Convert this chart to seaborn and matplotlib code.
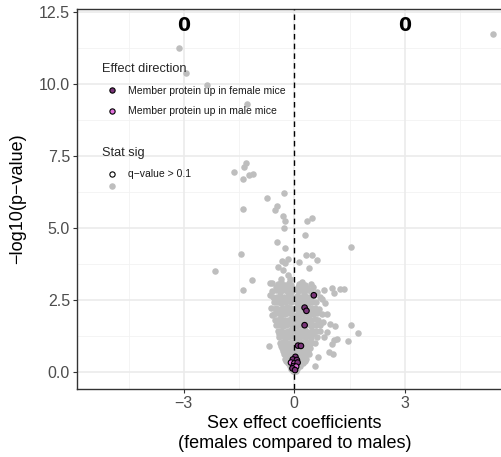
import matplotlib
matplotlib.use("Agg")
import matplotlib.pyplot as plt
from matplotlib.lines import Line2D
import seaborn as sns
import pandas as pd

sns.set_theme(style="white")
plt.rcParams['font.family'] = ['Liberation Sans', 'DejaVu Sans']

# ---- data: non-significant proteins (grey) ----
bg_x = [5.39, -3.14, -2.93, -2.37, -1.28, -1.32, -1.36, -1.65, -1.39, -1.23, -1.12, -4.94,
        -0.74, -0.29, -0.47, -0.52, -1.39, -0.32, -0.26, 0.34, 0.49, -0.28, 0.30, -0.46,
        -0.25, 1.54, -1.44, 0.32, 0.49, 0.61, 0.14, -0.33, -0.17, -0.24, -0.43, -0.31,
        -2.14, 0.40, -0.18, -0.35, -0.13, -1.15, -0.65, -0.61, -1.39, -0.65, -0.18, 0.30,
        0.45, 0.52, 0.80, 1.02, 1.07, 1.25, 1.34, 0.75, 0.84, 0.89, 0.78, 0.98, 1.11, 1.54,
        1.74, 1.47, 1.07, 1.16, 1.02, 0.80, 0.89, 0.71, 0.93, 1.05, 0.64, 0.57, -0.70,
        -0.61, -0.52,
        # dense central cloud
        -0.45, -0.35, -0.25, -0.15, -0.08, 0.12, 0.20, 0.30,
        -0.60, -0.50, -0.40, -0.30, -0.20, -0.10, -0.04, 0.10, 0.18, 0.26, 0.36, 0.45, 0.62,
        -0.58, -0.48, -0.38, -0.28, -0.18, -0.10, -0.05, 0.08, 0.15, 0.22, 0.30, 0.40, 0.50, 0.70,
        -0.55, -0.45, -0.35, -0.25, -0.16, -0.08, 0.07, 0.14, 0.22, 0.30, 0.38, 0.48, 0.60,
        -0.62, -0.50, -0.40, -0.30, -0.20, -0.12, -0.05, 0.06, 0.12, 0.20, 0.36, 0.44, 0.56, 0.66,
        -0.55, -0.45, -0.35, -0.25, -0.15, -0.07, 0.07, 0.15, 0.22, 0.30, 0.40, 0.50, 0.62, 0.75,
        -0.48, -0.38, -0.28, -0.18, -0.10, -0.04, 0.06, 0.13, 0.20, 0.28, 0.36, 0.45, 0.55, 0.65,
        -0.50, -0.40, -0.30, -0.22, -0.14, -0.06, 0.05, 0.12, 0.19, 0.36, 0.44, 0.52, 0.60, 0.70,
        -0.45, -0.35, -0.26, -0.18, -0.10, -0.04, 0.06, 0.14, 0.22, 0.30, 0.38, 0.47, 0.58,
        -0.42, -0.32, -0.24, -0.16, -0.08, 0.05, 0.12, 0.20, 0.28, 0.36, 0.46, 0.62,
        -0.38, -0.30, -0.22, -0.14, -0.07, 0.05, 0.12, 0.18, 0.26, 0.34, 0.44, 0.55,
        -0.33, -0.25, -0.18, -0.10, -0.04, 0.05, 0.11, 0.18, 0.25, 0.33, 0.42,
        -0.28, -0.20, -0.13, -0.06, 0.04, 0.10, 0.17, 0.24, 0.32, 0.40,
        -0.24, -0.16, -0.09, -0.03, 0.04, 0.10, 0.17, 0.24, 0.32,
        -0.18, -0.11, -0.05, 0.04, 0.10, 0.16, 0.24,
        -0.13, -0.07, 0.03, 0.09, 0.15,
        -0.08, -0.03, 0.03, 0.08,
        -0.04, 0.00, 0.04,
        # half-step rows
        -0.50, -0.40, -0.30, -0.20, -0.12, 0.10, 0.18, 0.26, 0.34,
        -0.52, -0.42, -0.32, -0.22, -0.13, 0.10, 0.18, 0.26, 0.34, 0.42,
        -0.50, -0.40, -0.30, -0.20, -0.11, 0.10, 0.18, 0.26, 0.34, 0.42, 0.54,
        -0.44, -0.34, -0.24, -0.14, 0.09, 0.17, 0.25, 0.33, 0.41,
        -0.42, -0.32, -0.22, -0.12, 0.09, 0.17, 0.25, 0.33, 0.41, 0.52,
        -0.36, -0.27, -0.18, -0.10, 0.08, 0.16, 0.23, 0.31, 0.40,
        -0.30, -0.22, -0.14, -0.07, 0.08, 0.15, 0.22, 0.29, 0.37,
        -0.22, -0.14, -0.07, 0.07, 0.14, 0.21, 0.28,
        ]
bg_y = [11.72, 11.25, 10.37, 9.97, 9.30, 7.24, 7.12, 6.93, 6.68, 6.84, 6.86, 6.45,
        6.02, 6.20, 5.75, 5.62, 5.66, 5.41, 5.24, 5.22, 5.34, 5.00, 4.75, 4.49,
        4.31, 4.32, 4.09, 4.04, 4.04, 3.87, 3.81, 3.84, 3.91, 3.76, 3.62, 3.53,
        3.50, 3.60, 3.36, 3.23, 3.21, 3.18, 3.09, 3.07, 2.85, 2.66, 2.95, 2.95,
        3.04, 2.95, 2.85, 2.89, 2.72, 2.86, 2.87, 2.51, 2.37, 2.00, 1.73, 1.64, 1.59, 1.60,
        1.35, 1.07, 1.10, 1.12, 0.95, 1.21, 1.38, 1.41, 0.69, 0.61, 0.49, 0.18, 0.90,
        1.96, 1.79,
        3.05, 3.12, 3.02, 3.08, 3.00, 3.05, 3.10, 3.02,
        2.80, 2.82, 2.78, 2.84, 2.80, 2.78, 2.82, 2.80, 2.84, 2.78, 2.82, 2.80, 2.78,
        2.60, 2.58, 2.62, 2.60, 2.64, 2.58, 2.60, 2.62, 2.58, 2.60, 2.64, 2.58, 2.62, 2.60,
        2.40, 2.42, 2.38, 2.40, 2.44, 2.40, 2.38, 2.42, 2.40, 2.44, 2.38, 2.40, 2.42,
        2.20, 2.22, 2.18, 2.20, 2.24, 2.20, 2.18, 2.22, 2.20, 2.24, 2.18, 2.20, 2.22, 2.18,
        2.00, 2.02, 1.98, 2.00, 2.04, 2.00, 1.98, 2.02, 2.00, 2.04, 1.98, 2.00, 2.02, 2.00,
        1.80, 1.82, 1.78, 1.80, 1.84, 1.80, 1.78, 1.82, 1.80, 1.84, 1.78, 1.80, 1.82, 1.80,
        1.60, 1.62, 1.58, 1.60, 1.64, 1.60, 1.58, 1.62, 1.60, 1.64, 1.58, 1.60, 1.62, 1.60,
        1.40, 1.42, 1.38, 1.40, 1.44, 1.40, 1.38, 1.42, 1.40, 1.44, 1.38, 1.40, 1.42,
        1.20, 1.22, 1.18, 1.20, 1.24, 1.20, 1.18, 1.22, 1.20, 1.24, 1.18, 1.20,
        1.00, 1.02, 0.98, 1.00, 1.04, 1.00, 0.98, 1.02, 1.00, 1.04, 0.98, 1.00,
        0.80, 0.82, 0.78, 0.80, 0.84, 0.80, 0.78, 0.82, 0.80, 0.84, 0.80,
        0.60, 0.62, 0.58, 0.60, 0.64, 0.60, 0.58, 0.62, 0.60, 0.60,
        0.45, 0.47, 0.43, 0.45, 0.47, 0.45, 0.43, 0.47, 0.45,
        0.30, 0.32, 0.28, 0.30, 0.32, 0.30, 0.28,
        0.18, 0.20, 0.16, 0.18, 0.20,
        0.08, 0.10, 0.07, 0.09,
        0.02, 0.03, 0.02,
        2.92, 2.90, 2.93, 2.91, 2.90, 2.92, 2.90, 2.93, 2.91,
        2.50, 2.51, 2.49, 2.50, 2.52, 2.50, 2.49, 2.51, 2.50, 2.52,
        2.10, 2.11, 2.09, 2.10, 2.12, 2.10, 2.09, 2.11, 2.10, 2.12, 2.10,
        1.70, 1.71, 1.69, 1.70, 1.72, 1.70, 1.69, 1.71, 1.70,
        1.30, 1.31, 1.29, 1.30, 1.32, 1.30, 1.29, 1.31, 1.30, 1.30,
        0.90, 0.91, 0.89, 0.90, 0.92, 0.90, 0.89, 0.91, 0.90,
        0.70, 0.71, 0.69, 0.70, 0.72, 0.70, 0.69, 0.71, 0.70,
        0.38, 0.39, 0.37, 0.38, 0.40, 0.38, 0.37,
        ]

# ---- data: set member proteins (coloured) ----
mem_x = [0.53, 0.28, 0.33, 0.28, 0.10, 0.18, 0.03, -0.04, 0.07, -0.09, 0.00, 0.09,
         -0.02, 0.05, -0.05, 0.02]
mem_y = [2.65, 2.22, 2.11, 1.61, 0.90, 0.89, 0.51, 0.42, 0.40, 0.31, 0.28, 0.31,
         0.19, 0.17, 0.11, 0.05]
mem_dir = ["female", "female", "female", "female", "female", "female", "female", "female",
           "female", "male", "male", "female", "female", "male", "female", "female"]

count_labels = ["0", "0"]
count_x = [-3, 3]
count_y = [12.03, 12.03]

y_ticks = [0.0, 2.5, 5.0, 7.5, 10.0, 12.5]
x_ticks = [-3, 0, 3]

female_col = "#7A3479"
male_col = "#E070DC"
grey_col = "#BEBEBE"

bg = pd.DataFrame({"x": bg_x, "y": bg_y})
mem = pd.DataFrame({"x": mem_x, "y": mem_y, "dir": mem_dir})

W, H = 502, 457
fig = plt.figure(figsize=(W / 100, H / 100), dpi=100)
ax = fig.add_axes([77 / W, 68 / H, 434.6 / W, 380 / H])
ax.set_xlim(-5.9, 5.9)
ax.set_ylim(-0.608, 12.6)

# grid
for v in [-4.5, -1.5, 1.5, 4.5]:
    ax.axvline(v, color="#F2F2F2", lw=0.6, zorder=0)
for v in [1.25, 3.75, 6.25, 8.75, 11.25]:
    ax.axhline(v, color="#F2F2F2", lw=0.6, zorder=0)
for v in x_ticks:
    ax.axvline(v, color="#EBEBEB", lw=1.2, zorder=0)
for v in y_ticks:
    ax.axhline(v, color="#EBEBEB", lw=1.2, zorder=0)

sns.scatterplot(data=bg, x="x", y="y", color=grey_col, s=22, linewidth=0,
                ax=ax, zorder=2, legend=False)
ax.axvline(0, color="black", lw=1.0, ls=(0, (4, 3)), zorder=3)
sns.scatterplot(data=mem, x="x", y="y", hue="dir",
                palette={"female": female_col, "male": male_col},
                s=16, edgecolor="black", linewidth=0.8, ax=ax, zorder=4, legend=False)

for t, xx, yy in zip(count_labels, count_x, count_y):
    ax.text(xx, yy, t, ha="center", va="center", fontsize=13.5, fontweight="bold",
            color="black", family="DejaVu Sans")

ax.set_xticks(x_ticks)
ax.set_xticklabels(["\u22123", "0", "3"])
ax.set_yticks(y_ticks)
ax.set_yticklabels([f"{v:.1f}" for v in y_ticks])
ax.tick_params(axis="both", labelsize=11.5, colors="#333333", labelcolor="#4D4D4D",
               length=3, width=0.8, direction="out", bottom=True, left=True, pad=2)
for s in ["left", "top", "bottom"]:
    ax.spines[s].set_color("#333333")
    ax.spines[s].set_linewidth(1.0)
ax.spines["right"].set_visible(False)

ax.set_xlabel("Sex effect coefficients\n(females compared to males)", fontsize=13,
              color="black", labelpad=3, linespacing=1.2)
ax.set_ylabel("\u2212log10(p\u2212value)", fontsize=13, color="black")
ax.yaxis.set_label_coords((26 - 77) / 434.6, 0.5)

# legends
h1 = [Line2D([], [], marker="o", ls="", markerfacecolor=female_col, markeredgecolor="black",
             markersize=3.8, markeredgewidth=0.8),
      Line2D([], [], marker="o", ls="", markerfacecolor=male_col, markeredgecolor="black",
             markersize=3.8, markeredgewidth=0.8)]
leg1 = fig.legend(h1, ["Member protein up in female mice", "Member protein up in male mice"],
                  title="Effect direction", loc="upper left",
                  bbox_to_anchor=(101.7 / W, 1 - 63.5 / H), bbox_transform=fig.transFigure,
                  frameon=False, fontsize=7.5, title_fontsize=9.2, alignment="left",
                  borderpad=0, borderaxespad=0, handlelength=2.0, handletextpad=0.5,
                  labelspacing=1.0)
h2 = [Line2D([], [], marker="o", ls="", markerfacecolor="white", markeredgecolor="black",
             markersize=3.8, markeredgewidth=0.8)]
leg2 = fig.legend(h2, ["q\u2212value > 0.1"], title="Stat sig", loc="upper left",
                  bbox_to_anchor=(101.7 / W, 1 - 147 / H), bbox_transform=fig.transFigure,
                  frameon=False, fontsize=7.5, title_fontsize=9.2, alignment="left",
                  borderpad=0, borderaxespad=0, handlelength=2.0, handletextpad=0.5,
                  labelspacing=1.0)
for lg in (leg1, leg2):
    for t in lg.get_texts():
        t.set_color("#1A1A1A")

fig.savefig("out.png", dpi=100)
